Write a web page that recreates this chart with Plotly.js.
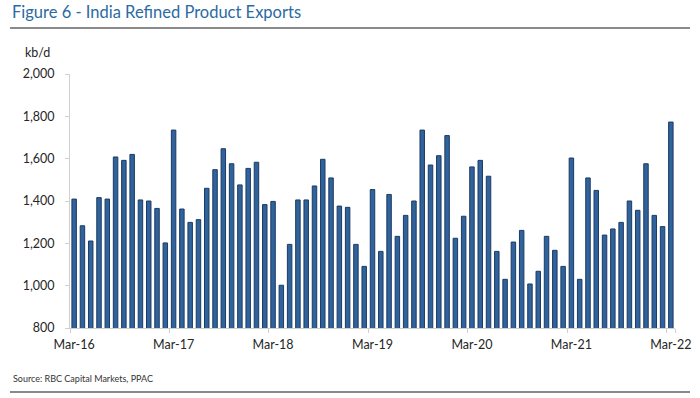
<!DOCTYPE html>
<html>
<head>
<meta charset="utf-8">
<script src="https://cdn.plot.ly/plotly-3.0.1.min.js"></script>
<style>html,body{margin:0;padding:0;background:#fff;}#chart{width:700px;height:398px;}</style>
</head>
<body>
<div id="chart"></div>
<script>
const months = [
  "Mar-16","Apr-16","May-16","Jun-16","Jul-16","Aug-16","Sep-16","Oct-16","Nov-16","Dec-16","Jan-17","Feb-17",
  "Mar-17","Apr-17","May-17","Jun-17","Jul-17","Aug-17","Sep-17","Oct-17","Nov-17","Dec-17","Jan-18","Feb-18",
  "Mar-18","Apr-18","May-18","Jun-18","Jul-18","Aug-18","Sep-18","Oct-18","Nov-18","Dec-18","Jan-19","Feb-19",
  "Mar-19","Apr-19","May-19","Jun-19","Jul-19","Aug-19","Sep-19","Oct-19","Nov-19","Dec-19","Jan-20","Feb-20",
  "Mar-20","Apr-20","May-20","Jun-20","Jul-20","Aug-20","Sep-20","Oct-20","Nov-20","Dec-20","Jan-21","Feb-21",
  "Mar-21","Apr-21","May-21","Jun-21","Jul-21","Aug-21","Sep-21","Oct-21","Nov-21","Dec-21","Jan-22","Feb-22",
  "Mar-22"
];
const exports_kbd = [
  1409,1283,1211,1416,1409,1608,1592,1620,1405,1400,1365,1202,
  1735,1362,1299,1312,1460,1548,1647,1576,1476,1554,1583,1383,
  1398,1002,1195,1405,1405,1471,1597,1509,1376,1370,1195,1091,
  1454,1162,1431,1233,1332,1400,1735,1570,1614,1709,1224,1328,
  1561,1592,1517,1162,1030,1206,1261,1008,1068,1233,1167,1091,
  1603,1030,1509,1450,1239,1268,1299,1400,1356,1576,1332,1279,
  1773
];
const xTickLabels = ["Mar-16","Mar-17","Mar-18","Mar-19","Mar-20","Mar-21","Mar-22"];
const yTickVals = [800,1000,1200,1400,1600,1800,2000];

const FONT = "Lato, 'Open Sans', sans-serif";

const trace = {
  type: "bar",
  x: months,
  y: exports_kbd,
  width: 0.54,
  marker: {color: "#30629b", line: {color: "#1c3b63", width: 1}},
  hoverinfo: "x+y"
};

const layout = {
  width: 700, height: 398,
  margin: {l: 70, r: 25, t: 74, b: 70},
  paper_bgcolor: "#ffffff",
  plot_bgcolor: "#ffffff",
  showlegend: false,
  bargap: 0.4,
  font: {family: FONT, color: "#262626", size: 12},
  xaxis: {
    type: "category",
    tickmode: "array",
    tickvals: xTickLabels,
    ticktext: xTickLabels,
    tickson: "boundaries",
    tickangle: 0,
    ticks: "outside",
    ticklen: 4,
    tickcolor: "#d0d0d0",
    ticklabelstandoff: 5,
    showline: true,
    linecolor: "#d0d0d0",
    linewidth: 1,
    showgrid: false,
    zeroline: false,
    tickfont: {family: FONT, size: 12.5, color: "#262626"},
    range: [-0.5, 72.5],
    fixedrange: true
  },
  yaxis: {
    range: [800, 2000],
    tickmode: "array",
    tickvals: yTickVals,
    tickformat: ",d",
    ticks: "outside",
    ticklen: 4,
    tickcolor: "#d0d0d0",
    ticklabelstandoff: 8,
    showline: true,
    linecolor: "#d0d0d0",
    linewidth: 1,
    showgrid: false,
    zeroline: false,
    tickfont: {family: FONT, size: 12.5, color: "#262626"},
    fixedrange: true
  },
  annotations: [
    {text: "Figure 6 - India Refined Product Exports", xref: "paper", yref: "paper",
     x: -0.1, y: 1.245, xanchor: "left", yanchor: "middle", showarrow: false,
     font: {family: FONT, size: 16.5, color: "#2b6aa3"}},
    {text: "kb/d", xref: "paper", yref: "paper",
     x: -0.078, y: 1.085, xanchor: "left", yanchor: "middle", showarrow: false,
     font: {family: FONT, size: 12.5, color: "#262626"}},
    {text: "Source: RBC Capital Markets, PPAC", xref: "paper", yref: "paper",
     x: -0.097, y: -0.197, xanchor: "left", yanchor: "middle", showarrow: false,
     font: {family: FONT, size: 9, color: "#333333"}}
  ],
  shapes: [
    {type: "line", xref: "paper", yref: "paper", x0: -0.0992, x1: 1.0248, y0: 1.181, y1: 1.181,
     line: {color: "#8a8a8a", width: 2}},
    {type: "line", xref: "paper", yref: "paper", x0: -0.0992, x1: 1.0248, y0: -0.252, y1: -0.252,
     line: {color: "#8a8a8a", width: 2}}
  ]
};

Plotly.newPlot("chart", [trace], layout, {displayModeBar: false, staticPlot: true});
</script>
</body>
</html>
